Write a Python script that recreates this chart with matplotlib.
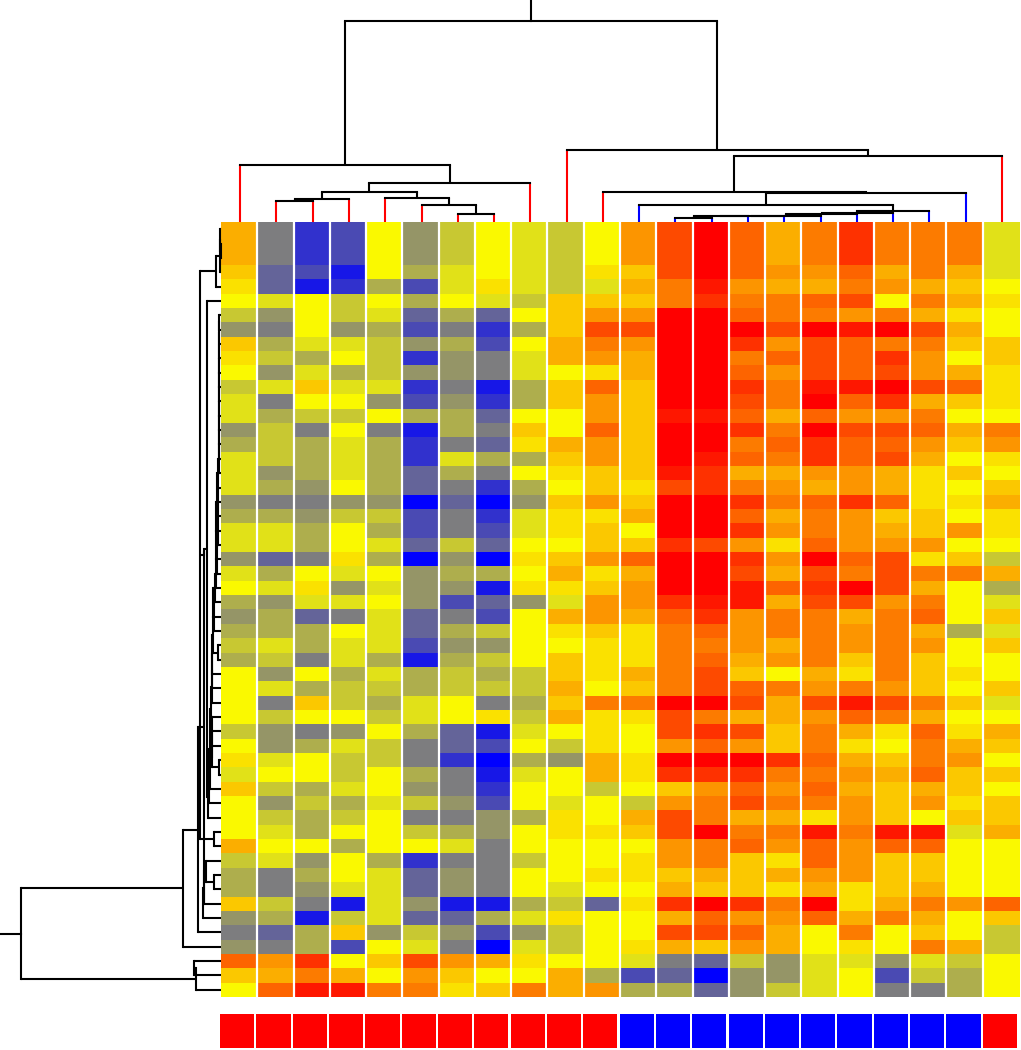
# heatmap with row and column dendrograms and a class strip below
import numpy as np
import matplotlib
matplotlib.use('Agg')
import matplotlib.pyplot as plt
from matplotlib.colors import LinearSegmentedColormap

# ===== DATA =====
# cell values per column, top row first (-10 blue, 0 yellow, 10 red)
col_01 = [3,3,3,2,1,0,-2,-4,2,1, 0,-2,-1,-1,-4,-3,-1,-1,-1,-4, -3,-1,-1,-4,-1,0,-3,-4,-3,-2, -3,0,0,0,0,-2,0,1,-1,2, 0,0,0,3,-2,-3,-3,2,-4,-5, -4,6,2,0]
col_02 = [-5,-5,-5,-6,-6,-1,-4,-5,-3,-2, -4,-1,-5,-3,-2,-2,-2,-4,-3,-5, -3,-1,-1,-6,-3,-1,-4,-3,-3,-1, -2,-4,-1,-5,-2,-4,-4,-1,0,-2, -4,-2,-1,0,-1,-5,-5,-2,-3,-6, -5,4,3,6]
col_03 = [-8,-8,-8,-7,-9,0,0,0,-1,-3, -1,2,0,-2,-5,-3,-3,-3,-4,-5, -4,-3,-3,-5,0,1,-1,-6,-3,-3, -5,0,-3,2,0,-5,-3,0,0,-3, -2,-3,-3,0,-4,-3,-4,-5,-9,-3, -3,8,5,9]
col_04 = [-7,-7,-7,-9,-8,-2,-2,-4,-1,0, -3,-1,0,-2,0,-1,-1,-1,0,-4, -2,0,0,1,-1,-4,-1,-5,0,-1, -1,-3,-2,-2,0,-4,-1,-2,-2,-1, -3,-2,0,-3,0,0,-1,-9,-2,2, -7,0,3,9]
col_05 = [0,0,0,0,-3,0,-1,-3,-2,-2, -2,-1,-4,0,-5,-3,-3,-3,-3,-4, -2,-3,-1,-3,0,-1,0,-1,-1,-1, -3,-1,-2,-3,-2,0,-2,-2,0,0, -1,0,0,0,-3,-1,-1,-1,-1,-4, 0,2,0,5]
col_06 = [-4,-4,-4,-3,-7,-3,-6,-7,-4,-8, -4,-8,-7,-3,-9,-8,-8,-6,-6,-10, -7,-7,-6,-10,-4,-4,-4,-6,-6,-7, -9,-3,-3,-1,-1,-3,-5,-5,-3,-4, -2,-5,-2,0,-8,-6,-6,-4,-6,-2, -1,7,4,5]
col_07 = [-2,-2,-2,-1,-1,0,-3,-5,-3,-4, -4,-5,-4,-3,-3,-5,-1,-3,-5,-6, -5,-5,-2,-4,-3,-4,-7,-5,-3,-4, -3,-2,-2,0,0,-6,-6,-8,-5,-5, -4,-5,-3,-1,-5,-4,-4,-9,-6,-4, -5,4,2,1]
col_08 = [0,0,0,0,1,-1,-6,-8,-7,-5, -5,-9,-8,-6,-5,-6,-3,-5,-8,-10, -8,-7,-6,-10,-3,-9,-6,-7,-2,-4, -2,-3,-2,-5,1,-9,-7,-10,-9,-8, -7,-4,-4,-5,-5,-5,-5,-9,-3,-7, -10,3,0,2]
col_09 = [-1,-1,-1,-1,-1,-2,0,-3,0,-1, -1,-3,-3,0,2,1,-3,0,-3,-4, -1,-1,0,1,0,1,-4,0,0,0, 0,-2,-2,-3,-2,-1,0,-3,-1,0, 0,-3,0,0,-2,0,0,-3,-1,-4, -1,1,0,5]
col_10 = [-2,-2,-2,-2,-2,2,2,2,3,3, 0,2,2,0,0,3,2,1,0,2, 1,1,0,2,3,1,-1,3,1,0, 2,2,3,2,3,0,-2,-4,0,0, -1,1,1,0,0,0,-1,-2,1,-2, -2,0,3,3]
col_11 = [0,0,0,1,-1,2,4,7,5,4, 1,6,4,4,6,4,4,2,2,4, 1,2,2,4,1,2,4,4,2,1, 1,1,0,5,1,1,1,3,3,-2, 0,0,1,0,0,1,0,-6,0,0, 0,0,-3,4]
col_12 = [4,4,4,2,3,2,4,7,4,3, 3,2,2,2,2,2,2,2,1,2, 3,0,2,6,3,4,4,3,1,1, 1,3,2,5,1,0,0,1,1,0, -2,3,2,0,1,1,0,1,0,0, 1,-1,-7,-3]
col_13 = [7,7,7,7,5,5,10,10,10,10, 10,10,10,9,10,10,10,9,7,10, 10,10,8,10,10,10,8,6,5,5, 5,5,5,10,7,7,4,10,8,2, 4,7,7,4,4,2,3,8,3,7, 3,-5,-6,-3]
col_14 = [10,10,10,10,9,8,10,10,10,10, 10,10,10,9,10,10,9,8,8,10, 10,10,7,10,10,10,9,8,6,5, 6,7,7,10,5,8,6,10,8,4, 5,5,10,5,5,3,2,10,6,7, 2,-6,-10,-6]
col_15 = [6,6,6,6,4,5,6,10,8,5, 6,8,7,6,8,5,6,3,5,8, 6,8,4,8,7,9,9,4,4,4, 3,2,6,7,3,7,4,10,8,6, 7,3,5,6,2,2,2,8,4,6, 4,-2,-4,-4]
col_16 = [3,3,3,4,3,5,5,7,4,6, 4,5,5,3,5,6,5,3,4,5, 3,4,1,4,3,6,3,5,5,3, 4,0,5,3,3,2,2,8,5,4, 5,3,5,4,1,3,1,5,4,3, 3,-4,-4,-2]
col_17 = [5,5,5,4,3,6,5,10,7,7, 7,9,10,6,10,8,8,4,3,6, 5,5,6,10,7,8,7,5,5,5, 5,3,4,7,4,5,5,6,5,6, 5,1,9,6,6,4,3,10,6,0, 0,-1,-1,-1]
col_18 = [8,8,8,6,5,7,4,9,6,6, 6,9,6,4,7,6,6,4,4,8, 4,4,4,6,5,10,7,3,4,4, 2,1,5,9,6,3,1,3,4,3, 4,4,5,4,4,4,1,1,3,5, 1,-1,0,0]
col_19 = [5,5,5,3,4,0,5,10,5,8, 7,10,8,4,7,6,7,3,3,6, 2,3,4,7,7,7,4,5,5,5, 5,5,4,7,5,1,0,2,3,2, 2,2,9,6,2,2,2,3,5,0, 0,-4,-7,-5]
col_20 = [5,5,5,5,3,5,3,7,5,4, 4,7,3,5,6,4,3,1,1,1, 2,2,4,1,5,3,5,6,3,4, 2,2,2,5,3,6,5,5,6,3, 4,0,9,6,2,2,3,5,3,2, 5,-1,-2,-5]
col_21 = [5,5,5,3,2,3,1,3,2,0, 3,6,2,0,3,2,0,2,0,1, 0,4,0,2,5,0,0,0,-3,0, 0,1,0,2,0,1,3,4,2,2, 1,2,-1,0,0,0,0,4,0,0, 3,-2,-3,-3]
col_22 = [-1,-1,-1,-1,0,1,0,0,2,2, 1,1,1,0,5,4,1,0,2,3, 1,1,0,-2,3,-3,-1,2,-1,2, 0,0,2,-1,0,3,2,0,2,0, 2,2,3,0,0,0,0,6,2,-2, -2,0,0,0]

# class of each column, drawn as the strip below
column_class = ['a'] * 11 + ['b'] * 10 + ['a']

# column tree: (merge height, left, right), a plain int is a column
left_branch = (57, 0, (39, (30, (23, (21, 1, 2), 3), (24, 4, (17, 5, (8.3, 6, 7)))), 8))
blue_chain = (3.7, 12, 13)
for leaf, h in zip([14, 15, 16, 17, 18, 19], [5.6, 6, 6.3, 8, 9.3, 10.7]):
    blue_chain = (h, blue_chain, leaf)
right_branch = (72, 9, (66, (30.3, 10, (28.7, (17, 11, blue_chain), 20)), 21))
col_tree = (201, left_branch, right_branch)

# row tree, built the same way from merge distances
top_rows = (5.5, (1.2, (0.8, 0, (0.5, 1, 2)), 3), 4)
mid_rows = (9.4, 34, (9.2, 35, (9, 36, (2.5, 37, 38))))
chain_rows = [7, 8, 9, 10, 11, 12, 13, 14, 15, 16, 17, 18, 19, 20, 21, 22, 23, 24, 25, 26, 27, 28,
              (3, 29, 30), 31, 32, 33, mid_rows, 39, 40, 41]
chain_dist = [2, 2, 2.1, 2.1, 2.2, 2.2, 2.3, 2.3, 2.4, 2.4, 2.5, 3, 4.5, 3, 5, 3.5, 5, 4, 5.5, 6, 8, 7,
              8.5, 9, 9, 9, 10.5, 11.5, 12.5, 13.5]
low_rows = (18, (17.5, (15, 44, (7, 45, 46)), 47), 48)
last_rows = (25.5, (27, 51, 52), 53)

# ===== COLORS =====
cmap = LinearSegmentedColormap.from_list('byr', ['#0000ff', '#fafa00', '#ff0000'])
class_colors = {'a': '#ff0000', 'b': '#0000ff'}

columns = [col_01, col_02, col_03, col_04, col_05, col_06, col_07, col_08, col_09, col_10, col_11,
           col_12, col_13, col_14, col_15, col_16, col_17, col_18, col_19, col_20, col_21, col_22]
values = np.array(columns).T

# ===== ROW TREE =====
chain = (2, 6, chain_rows[0])
for item, d in zip(chain_rows[1:], chain_dist[1:]):
    chain = (d, chain, item)

upper = (14.5, 5, chain)
side = (21, top_rows, (7, 42, 43))
joined = (17.5, (17.5, side, upper), low_rows)
cluster = (38.3, (23, joined, 49), 50)
row_tree = (200, cluster, last_rows)

LW = 1.5


def draw_tree(ax, node, vertical, leaf_color=None):
    # returns the leaf axis position of the node
    if not isinstance(node, tuple):
        return node + 0.5

    h, first, second = node
    points = []
    for child in (first, second):
        pos = draw_tree(ax, child, vertical, leaf_color)
        child_h = child[0] if isinstance(child, tuple) else 0
        color = 'black'
        if leaf_color is not None and not isinstance(child, tuple):
            color = leaf_color[child]
        if vertical:
            ax.plot([pos, pos], [child_h, h], color=color, lw=LW, solid_capstyle='butt', clip_on=False)
        else:
            ax.plot([child_h, h], [pos, pos], color=color, lw=LW, solid_capstyle='butt', clip_on=False)
        points.append(pos)

    if vertical:
        ax.plot(points, [h, h], color='black', lw=LW, solid_capstyle='projecting', clip_on=False)
    else:
        ax.plot([h, h], points, color='black', lw=LW, solid_capstyle='projecting', clip_on=False)
    return sum(points) / 2


def px_axes(left, top, right, bottom):
    # axes from pixel edges of the 1021x1050 picture
    return fig.add_axes([left / 1021, 1 - bottom / 1050, (right - left) / 1021, (bottom - top) / 1050])


# ===== FIGURE =====
fig = plt.figure(figsize=(10.21, 10.5), dpi=100)

# heatmap
ax_map = px_axes(221, 222, 1019, 997)
ax_map.imshow(values, cmap=cmap, vmin=-10, vmax=10, aspect='auto', interpolation='nearest',
              extent=(0, 22, 54, 0))
ax_map.vlines(np.arange(1, 22), 0, 54, color='white', lw=1.6)
ax_map.axis('off')

# column dendrogram, height in pixels above the map
ax_top = px_axes(222, 0, 1020, 222)
stem_color = [class_colors[c] for c in column_class]
root_x = draw_tree(ax_top, col_tree, True, stem_color)
ax_top.plot([root_x, root_x], [201, 222], color='black', lw=LW)
ax_top.set_xlim(0, 22)
ax_top.set_ylim(0, 222)
ax_top.axis('off')

# row dendrogram, distance in pixels left of the map
ax_left = px_axes(0, 222, 221, 997)
root_y = draw_tree(ax_left, row_tree, False)
ax_left.plot([200, 221], [root_y, root_y], color='black', lw=LW)
ax_left.set_xlim(221, 0)
ax_left.set_ylim(54, 0)
ax_left.axis('off')

# class strip
ax_class = px_axes(219, 1014, 1018, 1048)
for i, c in enumerate(column_class):
    ax_class.bar(i + 0.5, 1, width=0.94, color=class_colors[c])
ax_class.set_xlim(0, 22)
ax_class.set_ylim(0, 1)
ax_class.axis('off')

plt.savefig('out.png', dpi=100)
